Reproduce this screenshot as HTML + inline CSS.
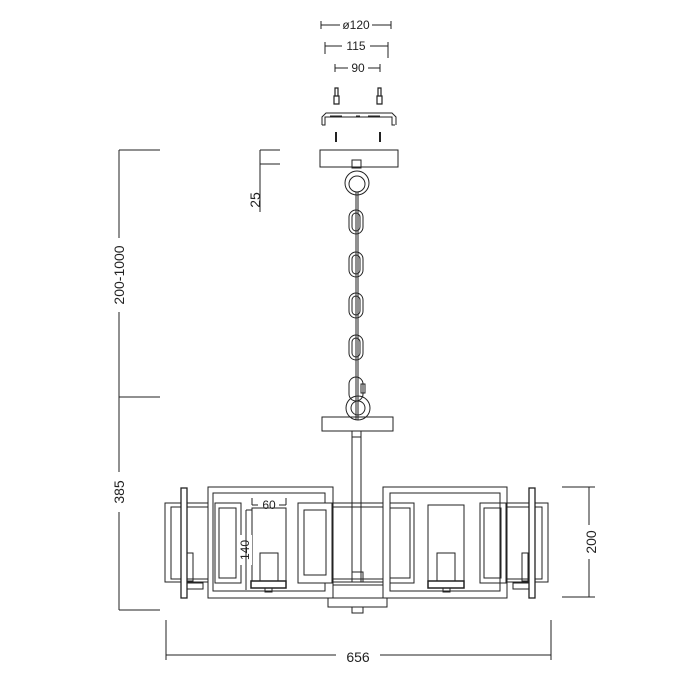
<!DOCTYPE html>
<html><head><style>body{margin:0;background:#fff}svg{display:block}text{font-family:"Liberation Sans",sans-serif;fill:#222}</style></head>
<body>
<svg width="689" height="689" viewBox="0 0 689 689" xmlns="http://www.w3.org/2000/svg" fill="none" stroke="#222" stroke-width="1">
<!-- top dims -->
<path d="M321 21V29M321 25H340M372 25H391M391 21V29"/>
<text x="356" y="29" font-size="12" text-anchor="middle" stroke="none">ø120</text>
<path d="M325 42V54M325 46H342M370 46H388M388 42V58"/>
<text x="356" y="50" font-size="12" text-anchor="middle" stroke="none">115</text>
<path d="M335 64V72M335 68H348M368 68H380M380 64V72"/>
<text x="358" y="72" font-size="12" text-anchor="middle" stroke="none">90</text>
<!-- screws -->
<path d="M335 88h3v8h-3zM334 96h5v8h-5zM378 88h3v8h-3zM377 96h5v8h-5z" stroke-width="1.2"/>
<path d="M322 125v-8l4-4h66l4 4v8M322 125h3v-8h67v8h3" />
<path d="M330 116h12M356 116h4M368 116h12"/>
<path d="M336 132v10M380 132v10" stroke-width="2"/>
<!-- canopy -->
<rect x="320" y="150" width="78" height="17"/>
<rect x="352" y="160" width="9" height="8"/>
<circle cx="357" cy="183" r="12"/><circle cx="357" cy="184" r="8"/>
<path d="M356 192V420M358 192V420"/>
<!-- chain -->
<g>
<rect x="349" y="210" width="14" height="24" rx="7"/><rect x="352" y="213" width="8" height="18" rx="4"/>
<rect x="349" y="252" width="14" height="25" rx="7"/><rect x="352" y="255" width="8" height="19" rx="4"/>
<rect x="349" y="293" width="14" height="25" rx="7"/><rect x="352" y="296" width="8" height="19" rx="4"/>
<rect x="349" y="335" width="14" height="25" rx="7"/><rect x="352" y="338" width="8" height="19" rx="4"/>
<rect x="349" y="377" width="14" height="24" rx="7"/><rect x="361" y="384" width="4" height="9"/>
</g>
<circle cx="358" cy="408" r="12"/><circle cx="358" cy="408" r="7"/>
<rect x="322" y="417" width="71" height="14"/>
<rect x="352" y="431" width="9" height="6"/>
<rect x="352" y="437" width="9" height="145"/>
<!-- left dims -->
<path d="M119 150V610M119 150H160M119 397H160M119 610H160"/>
<rect x="112" y="238" width="14" height="74" fill="#fff" stroke="none"/>
<text transform="translate(124 275) rotate(-90)" font-size="14" text-anchor="middle" stroke="none">200-1000</text>
<rect x="112" y="472" width="14" height="40" fill="#fff" stroke="none"/>
<text transform="translate(124 492) rotate(-90)" font-size="14" text-anchor="middle" stroke="none">385</text>
<path d="M260 150V212M260 150H280M260 164H280"/>
<text transform="translate(260 200) rotate(-90)" font-size="14" text-anchor="middle" stroke="none">25</text>
<!-- body back band -->
<rect x="165" y="503" width="383" height="79"/>
<rect x="171" y="507" width="371" height="72"/>
<!-- big frames -->
<rect x="208" y="487" width="125" height="111" fill="#fff"/>
<rect x="213" y="493" width="112" height="98"/>
<rect x="298" y="503" width="34" height="80" fill="#fff"/><rect x="304" y="510" width="22" height="65"/>
<rect x="215" y="503" width="26" height="80"/><rect x="219" y="508" width="17" height="70"/>
<rect x="383" y="487" width="124" height="111" fill="#fff"/>
<rect x="390" y="493" width="110" height="98"/>
<rect x="390" y="503" width="24" height="80"/><rect x="390" y="508" width="20" height="70"/>
<rect x="480" y="503" width="26" height="80"/><rect x="484" y="508" width="17" height="70"/>
<path d="M333 582H383M333 585H383"/>
<!-- lamps -->
<rect x="252" y="508" width="34" height="74"/><rect x="260" y="553" width="18" height="28"/>
<rect x="251" y="581" width="35" height="7" fill="#fff" stroke-width="1.5"/><rect x="265" y="588" width="7" height="4"/>
<rect x="428" y="505" width="36" height="77"/><rect x="437" y="553" width="18" height="28"/>
<rect x="428" y="581" width="36" height="7" fill="#fff" stroke-width="1.5"/><rect x="443" y="588" width="7" height="4"/>
<!-- side lamps -->
<rect x="187" y="553" width="6" height="28"/><rect x="522" y="553" width="6" height="28"/>
<rect x="183" y="583" width="20" height="6"/><rect x="513" y="583" width="20" height="6"/>
<!-- posts -->
<rect x="181" y="488" width="6" height="110" fill="#fff" stroke-width="1.3"/>
<rect x="529" y="488" width="6" height="110" fill="#fff" stroke-width="1.3"/>
<!-- hub -->
<rect x="352" y="572" width="11" height="10"/>
<rect x="328" y="598" width="59" height="9"/><rect x="352" y="607" width="11" height="6"/>
<!-- right dim -->
<path d="M562 487H595M562 597H595M589 487V597"/>
<rect x="582" y="525" width="14" height="34" fill="#fff" stroke="none"/>
<text transform="translate(596 542) rotate(-90)" font-size="14" text-anchor="middle" stroke="none">200</text>
<rect x="240" y="535" width="12" height="30" fill="#fff" stroke="none"/>
<text transform="translate(249 550) rotate(-90)" font-size="12" text-anchor="middle" stroke="none">140</text>
<path d="M246 510V590M246 510H252"/>
<path d="M252 498V505M252 505H258M279 505H286M286 498V505"/>
<text x="269" y="509" font-size="12" text-anchor="middle" stroke="none">60</text>
<!-- bottom dim -->
<path d="M166 620V660M551 620V660M166 655H336M380 655H551"/>
<text x="358" y="662" font-size="14" text-anchor="middle" stroke="none">656</text>
</svg>
</body></html>
